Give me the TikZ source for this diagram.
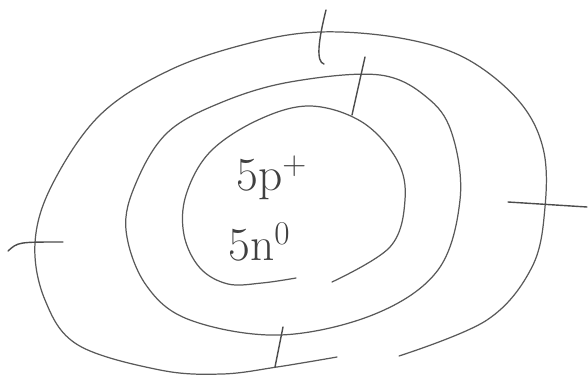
\documentclass[tikz,border=0pt]{standalone}
\usepackage{amsmath,amssymb}
\usepackage{tikz}

\begin{document}
\begin{tikzpicture}[x=0.02cm,y=-0.02cm,
                    shell/.style={draw=black!65,line width=0.7pt,line cap=round},
                    elec/.style={draw=black!70,line width=0.8pt,line cap=round},
                    nuc/.style={inner sep=0pt,text=black!75,font=\fontsize{27}{30}\selectfont}]
  \useasboundingbox (0,0) rectangle (588,375);
  % Bohr sketch: nucleus with 5 protons, 5 neutrons; 2 electrons inside, 3 outside.
  \node[nuc,anchor=base west] (prot) at (236,190) {5p\textsuperscript{+}};
  \node[nuc,anchor=base west] (neut) at (228,260) {5n\textsuperscript{0}};
  % inner ring (nucleus outline), open at the bottom
  \draw[shell] plot[smooth,tension=0.6] coordinates {(332,282) (390,247) (405,200)
        (397,160) (362,122) (310,106) (258,120) (210,152) (186,195) (184,235)
        (200,268) (228,284) (262,283) (296,278)};
  % first shell
  \draw[shell] plot[smooth cycle,tension=0.6] coordinates {(380,75) (430,100)
        (453,137) (460,200) (438,270) (375,314) (280,335) (190,320) (146,285)
        (126,230) (136,183) (167,133) (220,103) (290,82)};
  % second shell, open at the lower right
  \draw[shell] plot[smooth,tension=0.6] coordinates {(399,356) (487,320) (532,267)
        (545,207) (543,148) (518,100) (465,58) (400,38) (320,32) (250,43)
        (170,70) (100,115) (52,185) (35,243) (45,300) (78,345) (160,370)
        (222,374) (277,367) (337,357)};
  % electrons
  \coordinate (eA1) at (365,57);  \coordinate (eA2) at (352,115);
  \coordinate (eB1) at (283,327); \coordinate (eB2) at (275,367);
  \draw[elec] (eA1) -- (eA2);
  \draw[elec] (eB1) -- (eB2);
  \coordinate (eC1) at (8,251);   \coordinate (eC2) at (63,242);
  \coordinate (eD1) at (326,10);  \coordinate (eD2) at (324,64);
  \coordinate (eE1) at (508,202); \coordinate (eE2) at (587,207);
  \draw[elec] (eC1) .. controls (18,242) .. (eC2);
  \draw[elec] (eD1) .. controls (318,42) and (316,62) .. (eD2);
  \draw[elec] (eE1) -- (eE2);
\end{tikzpicture}
\end{document}
